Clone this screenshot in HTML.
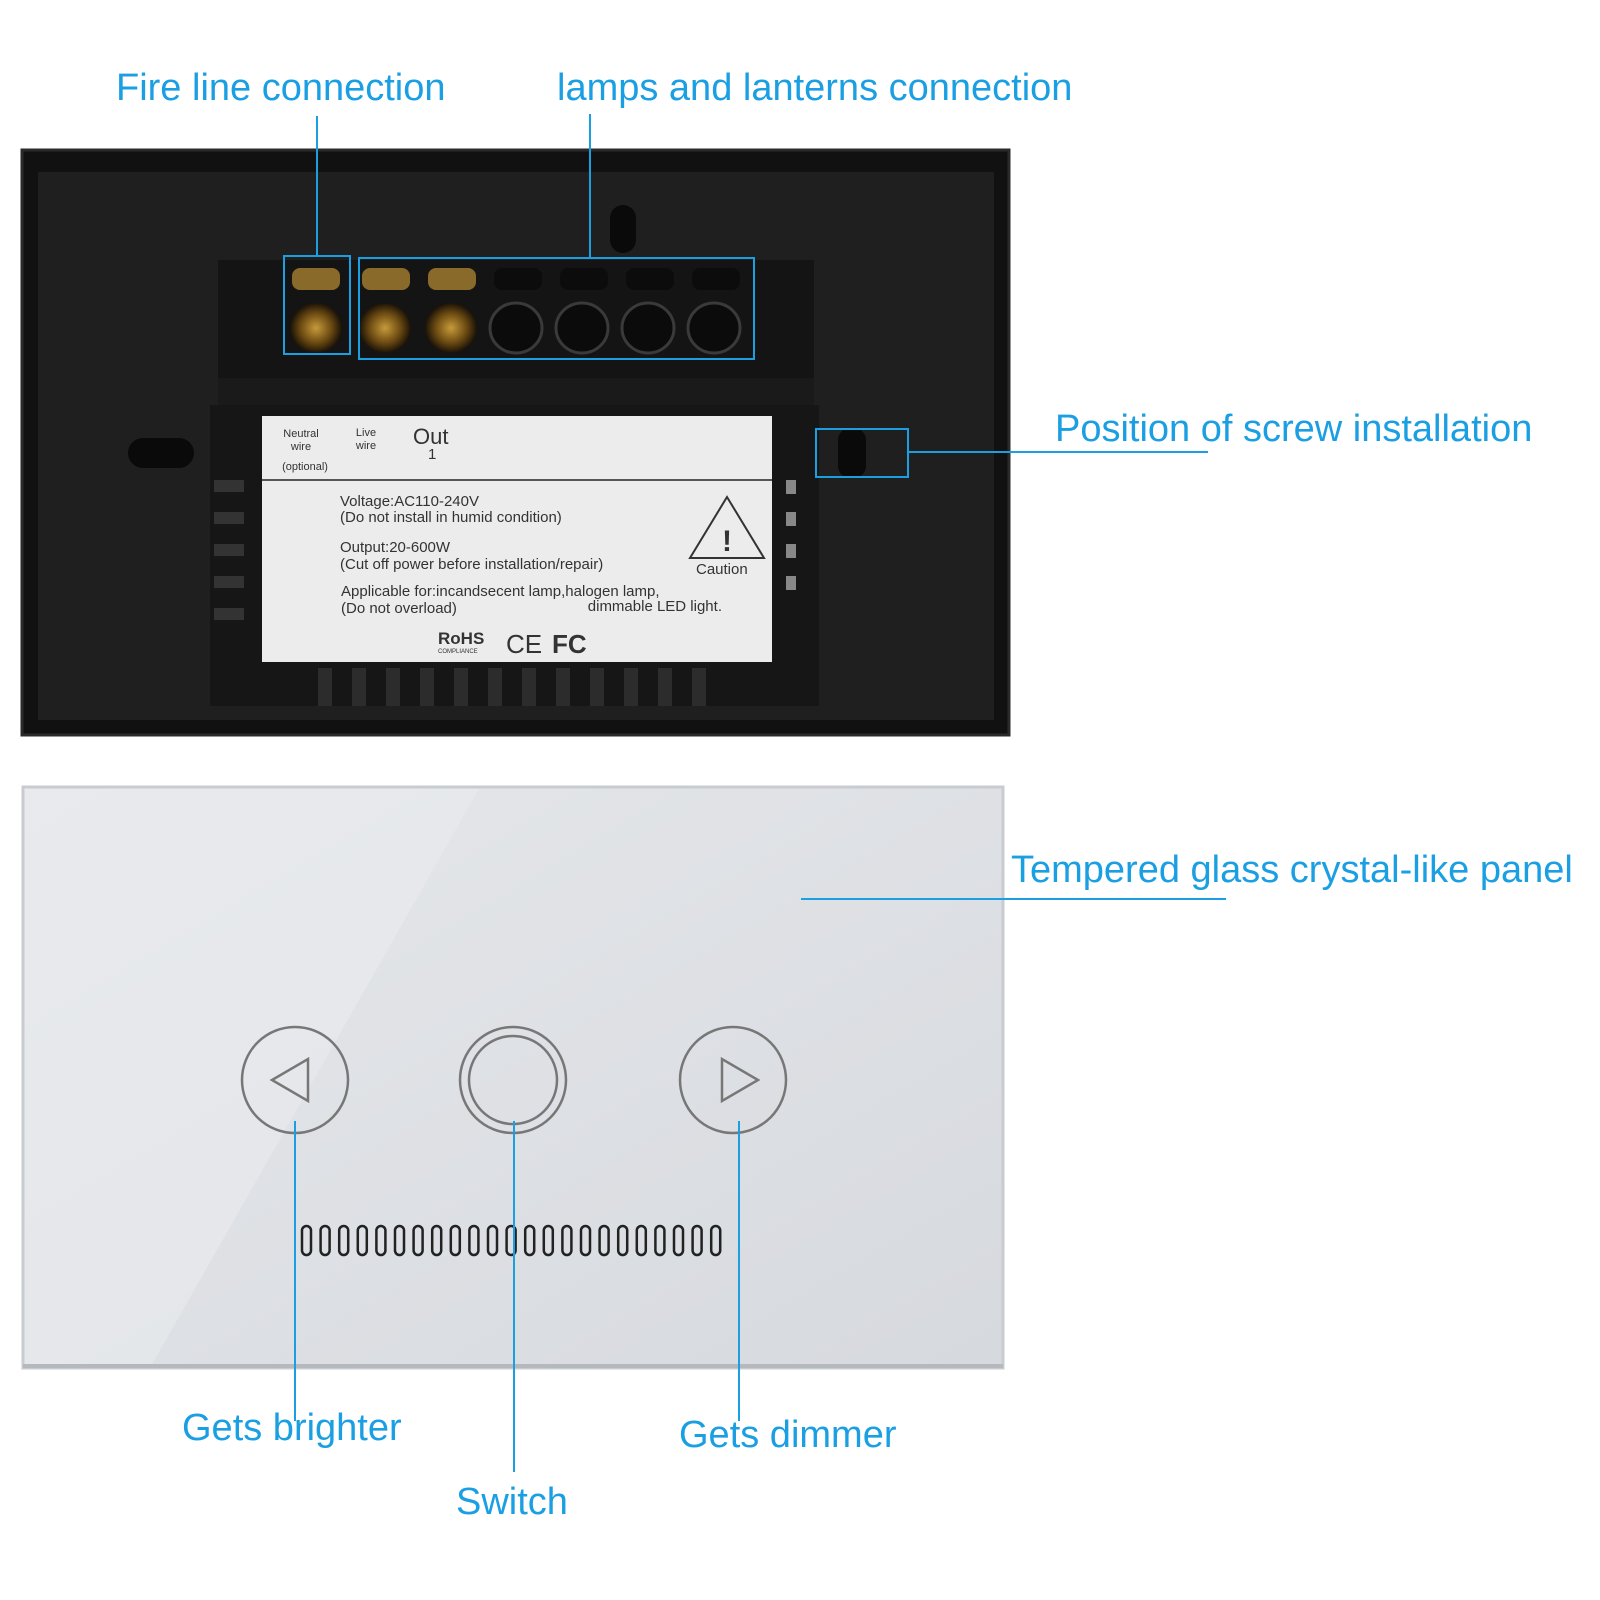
<!DOCTYPE html>
<html><head><meta charset="utf-8"><style>
html,body{margin:0;padding:0;background:#fff;width:1600px;height:1600px;overflow:hidden}
svg{display:block}
.lb{font-family:"Liberation Sans",sans-serif;font-size:38px;fill:#1a9fe3}
.sm{font-family:"Liberation Sans",sans-serif;fill:#333}
</style></head><body>
<svg width="1600" height="1600" viewBox="0 0 1600 1600" xmlns="http://www.w3.org/2000/svg">
<defs>
<linearGradient id="gl" x1="0" y1="0" x2="1" y2="1">
<stop offset="0" stop-color="#e6e8eb"/><stop offset="1" stop-color="#d6d9de"/>
</linearGradient>
<radialGradient id="brass" cx="0.5" cy="0.5" r="0.5">
<stop offset="0" stop-color="#c79a3a"/><stop offset="0.6" stop-color="#6b4a12"/><stop offset="1" stop-color="#1a1208"/>
</radialGradient>
</defs>
<!-- back panel -->
<rect x="22" y="150" width="987" height="585" fill="#111"/>
<rect x="38" y="172" width="956" height="548" fill="#1f1f1f"/>
<rect x="22" y="150" width="987" height="585" fill="none" stroke="#2a2a2a" stroke-width="3"/>
<rect x="610" y="205" width="26" height="48" rx="13" fill="#0a0a0a"/>
<rect x="128" y="438" width="66" height="30" rx="15" fill="#0a0a0a"/>
<rect x="838" y="428" width="28" height="50" rx="12" fill="#0a0a0a"/>
<!-- terminal block -->
<rect x="218" y="260" width="596" height="118" fill="#141414"/>
<rect x="218" y="378" width="596" height="32" fill="#1a1a1a"/>
<g>
<rect x="292" y="268" width="48" height="22" rx="8" fill="#8a6a2a"/>
<rect x="362" y="268" width="48" height="22" rx="8" fill="#8a6a2a"/>
<rect x="428" y="268" width="48" height="22" rx="8" fill="#8a6a2a"/>
<rect x="494" y="268" width="48" height="22" rx="8" fill="#0c0c0c"/>
<rect x="560" y="268" width="48" height="22" rx="8" fill="#0c0c0c"/>
<rect x="626" y="268" width="48" height="22" rx="8" fill="#0c0c0c"/>
<rect x="692" y="268" width="48" height="22" rx="8" fill="#0c0c0c"/>
<ellipse cx="316" cy="328" rx="26" ry="25" fill="url(#brass)"/>
<ellipse cx="385" cy="328" rx="26" ry="25" fill="url(#brass)"/>
<ellipse cx="451" cy="328" rx="26" ry="25" fill="url(#brass)"/>
<ellipse cx="516" cy="328" rx="26" ry="25" fill="#0b0b0b" stroke="#3a3a3a" stroke-width="3"/>
<ellipse cx="582" cy="328" rx="26" ry="25" fill="#0b0b0b" stroke="#3a3a3a" stroke-width="3"/>
<ellipse cx="648" cy="328" rx="26" ry="25" fill="#0b0b0b" stroke="#3a3a3a" stroke-width="3"/>
<ellipse cx="714" cy="328" rx="26" ry="25" fill="#0b0b0b" stroke="#3a3a3a" stroke-width="3"/>
</g>
<!-- module -->
<rect x="210" y="405" width="609" height="301" fill="#161616"/>
<g fill="#333">
<rect x="214" y="480" width="30" height="12"/><rect x="214" y="512" width="30" height="12"/><rect x="214" y="544" width="30" height="12"/><rect x="214" y="576" width="30" height="12"/><rect x="214" y="608" width="30" height="12"/>
<rect x="786" y="480" width="10" height="14" fill="#888"/><rect x="786" y="512" width="10" height="14" fill="#888"/><rect x="786" y="544" width="10" height="14" fill="#888"/><rect x="786" y="576" width="10" height="14" fill="#888"/>
</g>
<g fill="#2c2c2c">
<rect x="318" y="668" width="14" height="38"/><rect x="352" y="668" width="14" height="38"/><rect x="386" y="668" width="14" height="38"/><rect x="420" y="668" width="14" height="38"/><rect x="454" y="668" width="14" height="38"/><rect x="488" y="668" width="14" height="38"/><rect x="522" y="668" width="14" height="38"/><rect x="556" y="668" width="14" height="38"/><rect x="590" y="668" width="14" height="38"/><rect x="624" y="668" width="14" height="38"/><rect x="658" y="668" width="14" height="38"/><rect x="692" y="668" width="14" height="38"/>
</g>
<!-- label -->
<rect x="262" y="416" width="510" height="246" fill="#ececec"/>
<line x1="262" y1="480" x2="772" y2="480" stroke="#555" stroke-width="2"/>
<text class="sm" x="301" y="437" font-size="11" text-anchor="middle">Neutral</text>
<text class="sm" x="301" y="450" font-size="11" text-anchor="middle">wire</text>
<text class="sm" x="305" y="470" font-size="11" text-anchor="middle">(optional)</text>
<text class="sm" x="366" y="436" font-size="11" text-anchor="middle">Live</text>
<text class="sm" x="366" y="449" font-size="11" text-anchor="middle">wire</text>
<text class="sm" x="413" y="444" font-size="22">Out</text>
<text class="sm" x="428" y="459" font-size="15">1</text>
<g class="sm" font-size="15">
<text x="340" y="506">Voltage:AC110-240V</text>
<text x="340" y="522">(Do not install in humid condition)</text>
<text x="340" y="552">Output:20-600W</text>
<text x="340" y="569">(Cut off power before installation/repair)</text>
<text x="341" y="596">Applicable for:incandsecent lamp,halogen lamp,</text>
<text x="341" y="613">(Do not overload)</text>
<text x="722" y="611" text-anchor="end">dimmable LED light.</text>
<text x="696" y="574" font-size="15">Caution</text>
</g>
<polygon points="727,497 690,558 764,558" fill="none" stroke="#333" stroke-width="2"/>
<text class="sm" x="727" y="551" font-size="30" text-anchor="middle" font-weight="bold">!</text>
<text class="sm" x="438" y="644" font-size="17" font-weight="bold">RoHS</text>
<text class="sm" x="438" y="653" font-size="6">COMPLIANCE</text>
<text class="sm" x="506" y="653" font-size="26">CE</text>
<text class="sm" x="552" y="653" font-size="26" font-weight="bold">FC</text>
<!-- glass panel -->
<rect x="23" y="787" width="980" height="581" fill="url(#gl)"/>
<polygon points="23,787 480,787 150,1368 23,1368" fill="#e9ebee" opacity="0.6"/>
<rect x="23" y="787" width="980" height="581" fill="none" stroke="#c8cbd0" stroke-width="3"/>
<line x1="23" y1="1366" x2="1003" y2="1366" stroke="#b5b8bd" stroke-width="4"/>
<g fill="none" stroke="#777" stroke-width="2.5">
<circle cx="295" cy="1080" r="53"/>
<polygon points="308,1059 308,1101 272,1080"/>
<circle cx="513" cy="1080" r="53"/>
<circle cx="513" cy="1080" r="44"/>
<circle cx="733" cy="1080" r="53"/>
<polygon points="722,1059 722,1101 758,1080"/>
</g>
<g fill="none" stroke="#222" stroke-width="2.5" id="pills">
<rect x="302" y="1226" width="9" height="29" rx="4.5"/><rect x="320.6" y="1226" width="9" height="29" rx="4.5"/><rect x="339.2" y="1226" width="9" height="29" rx="4.5"/><rect x="357.8" y="1226" width="9" height="29" rx="4.5"/><rect x="376.4" y="1226" width="9" height="29" rx="4.5"/><rect x="395" y="1226" width="9" height="29" rx="4.5"/><rect x="413.6" y="1226" width="9" height="29" rx="4.5"/><rect x="432.2" y="1226" width="9" height="29" rx="4.5"/><rect x="450.8" y="1226" width="9" height="29" rx="4.5"/><rect x="469.4" y="1226" width="9" height="29" rx="4.5"/><rect x="488" y="1226" width="9" height="29" rx="4.5"/><rect x="506.6" y="1226" width="9" height="29" rx="4.5"/><rect x="525.2" y="1226" width="9" height="29" rx="4.5"/><rect x="543.8" y="1226" width="9" height="29" rx="4.5"/><rect x="562.4" y="1226" width="9" height="29" rx="4.5"/><rect x="581" y="1226" width="9" height="29" rx="4.5"/><rect x="599.6" y="1226" width="9" height="29" rx="4.5"/><rect x="618.2" y="1226" width="9" height="29" rx="4.5"/><rect x="636.8" y="1226" width="9" height="29" rx="4.5"/><rect x="655.4" y="1226" width="9" height="29" rx="4.5"/><rect x="674" y="1226" width="9" height="29" rx="4.5"/><rect x="692.6" y="1226" width="9" height="29" rx="4.5"/><rect x="711.2" y="1226" width="9" height="29" rx="4.5"/>
</g>
<!-- callouts -->
<g stroke="#1a9fe3" stroke-width="2" fill="none">
<line x1="317" y1="116" x2="317" y2="256"/>
<rect x="284" y="256" width="66" height="98"/>
<line x1="590" y1="114" x2="590" y2="258"/>
<rect x="359" y="258" width="395" height="101"/>
<rect x="816" y="429" width="92" height="48"/>
<line x1="908" y1="452" x2="1208" y2="452"/>
<line x1="801" y1="899" x2="1226" y2="899"/>
<line x1="295" y1="1121" x2="295" y2="1421"/>
<line x1="514" y1="1121" x2="514" y2="1472"/>
<line x1="739" y1="1121" x2="739" y2="1421"/>
</g>
<text class="lb" x="116" y="100">Fire line connection</text>
<text class="lb" x="557" y="100">lamps and lanterns connection</text>
<text class="lb" x="1055" y="441">Position of screw installation</text>
<text class="lb" x="1011" y="882">Tempered glass crystal-like panel</text>
<text class="lb" x="182" y="1440">Gets brighter</text>
<text class="lb" x="456" y="1514">Switch</text>
<text class="lb" x="679" y="1447">Gets dimmer</text>
</svg>
</body></html>
